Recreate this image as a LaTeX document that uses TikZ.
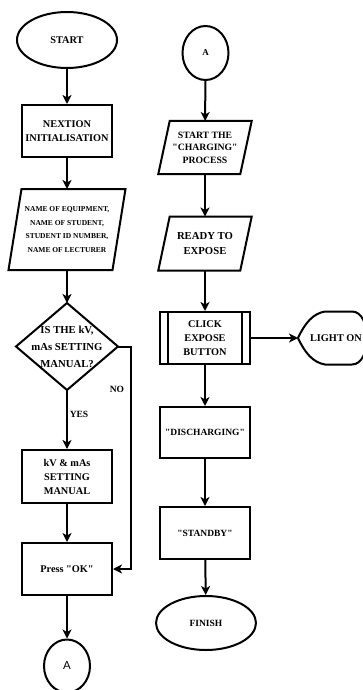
\documentclass[tikz,border=0pt]{standalone}
\usepackage{fontspec}
\newfontfamily\rserif{Liberation Serif}
\newfontfamily\sansA{Liberation Sans}
\usetikzlibrary{shapes.geometric,arrows.meta}
\begin{document}
\begin{tikzpicture}[x=1pt,y=-1pt, line width=2pt,
  every node/.style={font=\rserif\bfseries\fontsize{10.3}{14}\selectfont, align=center, inner sep=0pt},
  box/.style={draw, rectangle, minimum width=90pt, minimum height=52pt},
  oval/.style={draw, ellipse, minimum width=100pt, minimum height=56pt},
  arr/.style={-{Stealth[length=9pt,width=9pt,inset=2.5pt]}},
  lbl/.style={font=\rserif\bfseries\fontsize{9.5}{11}\selectfont}]
\useasboundingbox (0,0) rectangle (363,690);

% left column
\node[oval] (start) at (67,40) {START};
\node[box] (nex) at (67,131) {NEXTION\\INITIALISATION};
\node[minimum width=102pt, minimum height=79pt, font=\rserif\bfseries\fontsize{7.5}{13.5}\selectfont] (name) at (67,229.5) {NAME OF EQUIPMENT,\\NAME OF STUDENT,\\STUDENT ID NUMBER,\\NAME OF LECTURER};
\draw ([xshift=6.5pt]name.north west) -- ([xshift=6.5pt]name.north east) -- ([xshift=-6.5pt]name.south east) -- ([xshift=-6.5pt]name.south west) -- cycle;
\node[minimum width=100pt, minimum height=85pt, font=\rserif\bfseries\fontsize{10.7}{17}\selectfont] (dia) at (67,346.5) {IS THE kV,\\mAs SETTING\\MANUAL?};
\draw (dia.north) -- (dia.east) -- (dia.south) -- (dia.west) -- cycle;
\node[box, minimum height=53pt] (kv) at (67,476.5) {kV \& mAs\\SETTING\\MANUAL};
\node[box] (ok) at (67,569) {Press "OK"};
\node[draw, ellipse, minimum width=46pt, minimum height=53pt, font=\sansA\fontsize{11.5}{13}\selectfont] (a1) at (67,666) {A};
\node[lbl] (yes) at (79,414) {YES};
\node[lbl] (no) at (117,389) {NO};

\draw[arr] (start) -- (nex);
\draw[arr] (nex) -- (name);
\draw[arr] (name) -- (dia.north);
\draw[arr] (dia.south) -- (kv);
\draw[arr] (kv) -- (ok);
\draw[arr] (dia.east) -- ++(13,0) |- (ok.east);
\draw[arr] (ok) -- (a1);

% right column
\node[draw, ellipse, minimum width=46pt, minimum height=54pt, font=\rserif\bfseries\fontsize{9}{10}\selectfont] (a2) at (205.5,53) {A};
\node[minimum width=80pt, minimum height=51pt, font=\rserif\bfseries\fontsize{9.7}{12.5}\selectfont] (chg) at (205,147.5) {START THE\\"CHARGING"\\PROCESS};
\draw ([xshift=5.7pt]chg.north west) -- ([xshift=5.7pt]chg.north east) -- ([xshift=-5.7pt]chg.south east) -- ([xshift=-5.7pt]chg.south west) -- cycle;
\node[minimum width=80pt, minimum height=52pt, font=\rserif\bfseries\fontsize{10.7}{15}\selectfont] (rdy) at (205,243.5) {READY TO\\EXPOSE};
\draw ([xshift=5.7pt]rdy.north west) -- ([xshift=5.7pt]rdy.north east) -- ([xshift=-5.7pt]rdy.south east) -- ([xshift=-5.7pt]rdy.south west) -- cycle;
\node[box] (clk) at (205,338) {CLICK\\EXPOSE\\BUTTON};
\draw ([xshift=9pt]clk.north west) -- ([xshift=9pt]clk.south west);
\draw ([xshift=-9pt]clk.north east) -- ([xshift=-9pt]clk.south east);
\node[minimum width=74pt, minimum height=51pt, font=\rserif\bfseries\fontsize{10.3}{12}\selectfont] (light) at (336,338) {LIGHT ON};
\draw (light.west) .. controls +(7,-15) and +(-12,2) .. ([xshift=27pt]light.north west) -- ([xshift=54pt]light.north west) .. controls +(20,0) and +(20,0) .. ([xshift=54pt]light.south west) -- ([xshift=27pt]light.south west) .. controls +(-12,-2) and +(7,15) .. (light.west) -- cycle;
\node[box, minimum height=51pt, font=\rserif\bfseries\fontsize{9.5}{12}\selectfont] (dis) at (205,432.5) {"DISCHARGING"};
\node[box, font=\rserif\bfseries\fontsize{9.5}{12}\selectfont] (stb) at (205,533) {"STANDBY"};
\node[oval, minimum height=54pt, font=\rserif\bfseries\fontsize{9.5}{12}\selectfont] (fin) at (206,623) {FINISH};

\draw[arr] (a2) -- (chg);
\draw[arr] (chg) -- (rdy);
\draw[arr] (rdy) -- (clk);
\draw[arr] (clk) -- (light.west);
\draw[arr] (clk) -- (dis);
\draw[arr] (dis) -- (stb);
\draw[arr] (stb) -- (fin);
\end{tikzpicture}
\end{document}
